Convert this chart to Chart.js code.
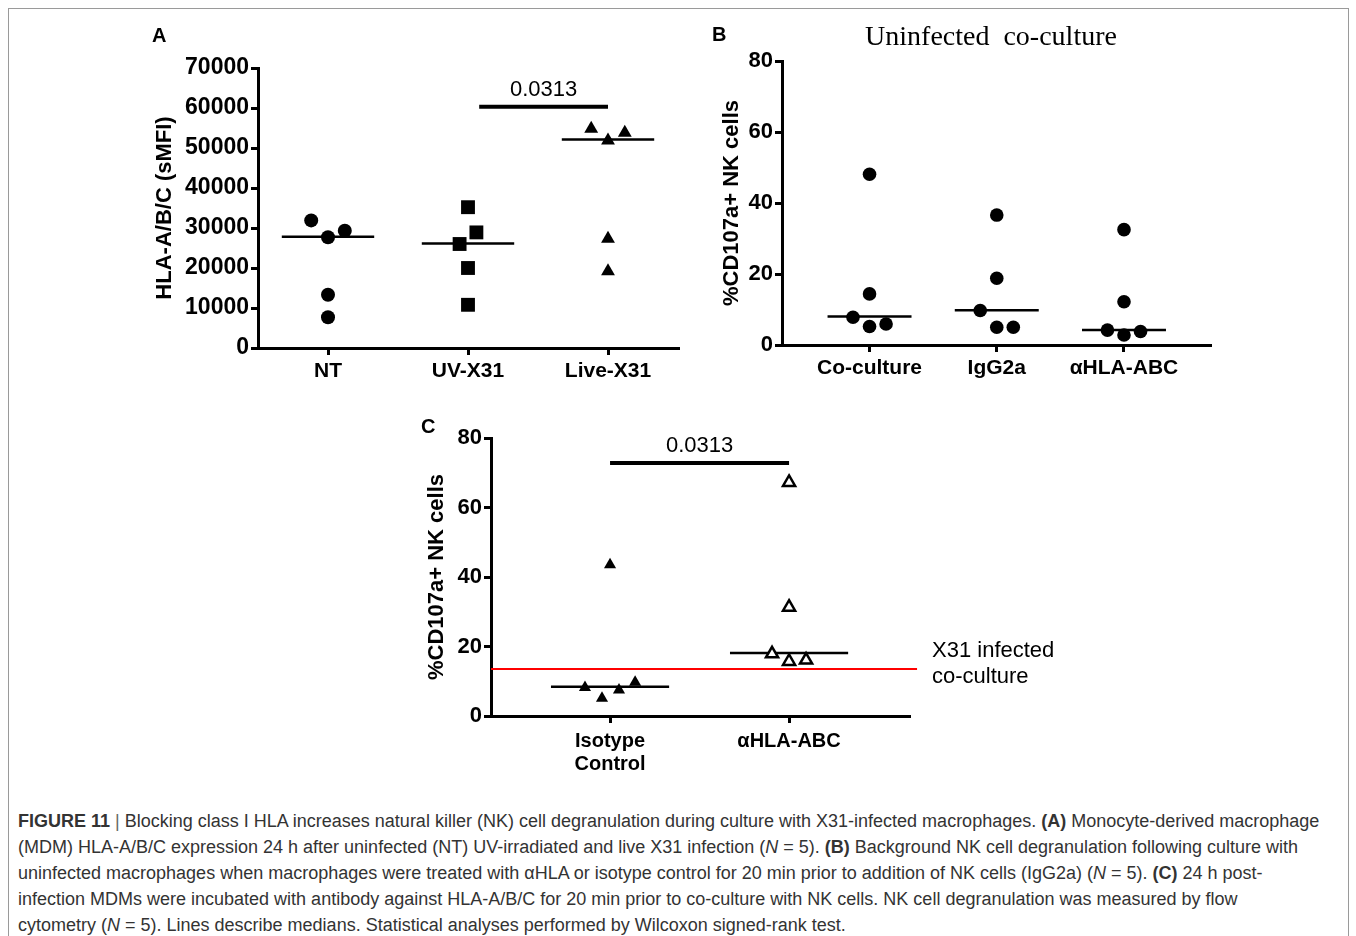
<!DOCTYPE html>
<html>
<head>
<meta charset="utf-8">
<script src="https://cdn.jsdelivr.net/npm/chart.js@4.4.1/dist/chart.umd.min.js"></script>
<style>
    body { margin: 0; background: #fff; }
    .figure { position: relative; width: 1356px; height: 936px; overflow: hidden; font-family: 'Liberation Sans', Arial, sans-serif; }
    .frame { position: absolute; left: 8px; top: 8px; width: 1339px; height: 960px; border: 1px solid #9a9a9a; }
    .panel { position: absolute; }
    .panel-letter { position: absolute; font-weight: bold; font-size: 20px; line-height: 1; }
    .panel-title { position: absolute; font-family: 'Liberation Serif', 'Times New Roman', serif; font-size: 28px; line-height: 1; white-space: pre; transform: translateX(-50%); }
    .caption { position: absolute; left: 18px; top: 808px; font-size: 18px; line-height: 26px; color: #333; white-space: nowrap; }
</style>
</head>
<body>
<div class="figure">
    <div class="frame"></div>

    <canvas id="chartA" class="panel" width="560" height="370" style="left:140px;top:20px"></canvas>
    <canvas id="chartB" class="panel" width="540" height="370" style="left:700px;top:20px"></canvas>
    <canvas id="chartC" class="panel" width="680" height="385" style="left:420px;top:400px"></canvas>

    <div class="panel-letter" style="left:152px;top:25px">A</div>
    <div class="panel-letter" style="left:712px;top:24px">B</div>
    <div class="panel-letter" style="left:421px;top:416px">C</div>
    <div class="panel-title" style="left:991px;top:22px">Uninfected  co-culture</div>

    <div class="caption">
        <div><b>FIGURE 11</b> <span style="color:#666">|</span> Blocking class I HLA increases natural killer (NK) cell degranulation during culture with X31-infected macrophages. <b>(A)</b> Monocyte-derived macrophage</div>
        <div>(MDM) HLA-A/B/C expression 24 h after uninfected (NT) UV-irradiated and live X31 infection (<i>N</i> = 5). <b>(B)</b> Background NK cell degranulation following culture with</div>
        <div>uninfected macrophages when macrophages were treated with &alpha;HLA or isotype control for 20 min prior to addition of NK cells (IgG2a) (<i>N</i> = 5). <b>(C)</b> 24 h post-</div>
        <div>infection MDMs were incubated with antibody against HLA-A/B/C for 20 min prior to co-culture with NK cells. NK cell degranulation was measured by flow</div>
        <div>cytometry (<i>N</i> = 5). Lines describe medians. Statistical analyses performed by Wilcoxon signed-rank test.</div>
    </div>
</div>

<script>
Chart.defaults.font.family = "'Liberation Sans', Arial, sans-serif";
Chart.defaults.color = "#000";

// ---- Panel A: HLA-A/B/C expression ----
const panelACategories = ["NT", "UV-X31", "Live-X31"];
const ntValues = [31900, 27700, 29300, 13300, 7700];
const uvX31Values = [35200, 28900, 26000, 20000, 10800];
const liveX31Values = [54800, 51900, 53800, 27300, 19200];
const panelAMedians = [27800, 26100, 52100];
const panelATicks = [0, 10000, 20000, 30000, 40000, 50000, 60000, 70000];
const panelAPValue = "0.0313";
const panelAPLevel = 60300;

// ---- Panel B: uninfected co-culture ----
const panelBCategories = ["Co-culture", "IgG2a", "\u03b1HLA-ABC"];
const coCultureValues = [48.1, 14.4, 7.8, 5.2, 5.9];
const igG2aValues = [36.6, 18.8, 9.7, 5.0, 5.0];
const antiHlaBValues = [32.5, 12.2, 4.2, 2.8, 3.8];
const panelBMedians = [8.0, 9.8, 4.2];
const percentTicks = [0, 20, 40, 60, 80];

// ---- Panel C: infected co-culture with blocking ----
const panelCCategories = [["Isotype", "Control"], "\u03b1HLA-ABC"];
const isotypeValues = [43.5, 8.2, 5.1, 7.5, 9.7];
const antiHlaCValues = [67.2, 31.3, 17.9, 15.7, 16.1];
const panelCMedians = [8.45, 18.1];
const panelCPValue = "0.0313";
const panelCPLevel = 72.8;
const x31InfectedLevel = 13.5;
const x31InfectedLabel = ["X31 infected", "co-culture"];

// sideways spread of overlapping points (category units)
const ntSpread = [-0.12, 0, 0.12, 0, 0];
const uvX31Spread = [0, 0.06, -0.06, 0, 0];
const liveX31Spread = [-0.12, 0, 0.12, 0, 0];
const coCultureSpread = [0, 0, -0.13, 0, 0.13];
const igG2aSpread = [0, 0, -0.13, 0, 0.13];
const antiHlaBSpread = [0, 0, -0.13, 0, 0.13];
const isotypeSpread = [0, -0.14, -0.045, 0.05, 0.14];
const antiHlaCSpread = [0, 0, -0.095, 0, 0.095];
const medianHalfWidth = 0.33;

const FONT = "'Liberation Sans', Arial, sans-serif";

function spreadPoints(values, group, spread) {
    return values.map((v, i) => ({x: group + spread[i], y: v}));
}

function medianSets(medians) {
    return medians.map((m, i) => ({
        data: [{x: i + 1 - medianHalfWidth, y: m}, {x: i + 1 + medianHalfWidth, y: m}],
        showLine: true, pointRadius: 0, borderColor: "#000", borderWidth: 2.5
    }));
}

function pBarSet(bar) {
    return {
        data: [{x: bar.from, y: bar.y}, {x: bar.to, y: bar.y}],
        showLine: true, pointRadius: 0, borderColor: "#000", borderWidth: 4, clip: false
    };
}

function pointSet(values, group, spread, style, radius, open) {
    return {
        data: spreadPoints(values, group, spread),
        pointStyle: style,
        pointRadius: radius,
        pointHoverRadius: radius,
        pointBackgroundColor: open ? "#fff" : "#000",
        pointBorderColor: "#000",
        pointBorderWidth: open ? 2.5 : 0,
        clip: false
    };
}

// text labels above p-value bars and next to the reference line
const figureNotes = {
    id: "figureNotes",
    afterDatasetsDraw(chart, args, opts) {
        const ctx = chart.ctx;
        const xs = chart.scales.x;
        const ys = chart.scales.y;
        ctx.save();
        ctx.fillStyle = "#000";
        ctx.textBaseline = "alphabetic";
        ctx.font = "22px " + FONT;
        if (opts.pBar) {
            ctx.textAlign = "center";
            ctx.fillText(opts.pBar.text, xs.getPixelForValue((opts.pBar.from + opts.pBar.to) / 2), ys.getPixelForValue(opts.pBar.y) - 11);
        }
        if (opts.sideNote) {
            const y = ys.getPixelForValue(opts.sideNote.y);
            ctx.textAlign = "left";
            ctx.fillText(opts.sideNote.lines[0], chart.chartArea.right + 23, y - 12);
            ctx.fillText(opts.sideNote.lines[1], chart.chartArea.right + 23, y + 14);
        }
        ctx.restore();
    }
};

function valueAxis(ticks, titleText, titlePad, width, fontSize) {
    return {
        type: "linear",
        min: ticks[0],
        max: ticks[ticks.length - 1],
        afterBuildTicks: axis => { axis.ticks = ticks.map(v => ({value: v})); },
        afterFit: axis => { axis.width = width; },
        border: {display: true, color: "#000", width: 3},
        grid: {drawOnChartArea: false, drawTicks: true, tickLength: 7, color: "#000", lineWidth: 3},
        ticks: {font: {size: fontSize, weight: "bold"}, padding: 2, color: "#000", callback: v => String(v)},
        title: {display: true, text: titleText, color: "#000", font: {size: 22, weight: "bold"}, padding: {top: titlePad, bottom: 0}}
    };
}

function groupAxis(categories, min, max, height, fontSize, pad) {
    return {
        type: "linear",
        min: min,
        max: max,
        afterBuildTicks: axis => { axis.ticks = categories.map((c, i) => ({value: i + 1})); },
        afterFit: axis => { axis.height = height; },
        border: {display: true, color: "#000", width: 3},
        grid: {drawOnChartArea: false, drawTicks: true, tickLength: 7, color: "#000", lineWidth: 3},
        ticks: {font: {size: fontSize, weight: "bold", lineHeight: 1.15}, padding: pad, color: "#000", maxRotation: 0, autoSkip: false,
                callback: v => categories[Math.round(v) - 1]}
    };
}

function createPanel(id, datasets, scales, padding, notes) {
    return new Chart(id, {
        type: "scatter",
        data: {datasets: datasets},
        options: {
            responsive: false,
            animation: false,
            layout: {padding: padding},
            scales: scales,
            plugins: {legend: {display: false}, tooltip: {enabled: false}, figureNotes: notes}
        },
        plugins: [figureNotes]
    });
}

// Panel A
const pBarA = {from: 2.08, to: 3, y: panelAPLevel, text: panelAPValue};
createPanel("chartA", [
    pointSet(ntValues, 1, ntSpread, "circle", 7, false),
    pointSet(uvX31Values, 2, uvX31Spread, "rect", 9.8, false),
    pointSet(liveX31Values, 3, liveX31Spread, "triangle", 8, false),
    ...medianSets(panelAMedians),
    pBarSet(pBarA)
], {
    x: groupAxis(panelACategories, 0.5, 3.5, 42, 21, 4),
    y: valueAxis(panelATicks, "HLA-A/B/C (sMFI)", 12, 118, 23)
}, {left: 0, top: 48, right: 22, bottom: 0}, {pBar: pBarA});

// Panel B
createPanel("chartB", [
    pointSet(coCultureValues, 1, coCultureSpread, "circle", 6.8, false),
    pointSet(igG2aValues, 2, igG2aSpread, "circle", 6.8, false),
    pointSet(antiHlaBValues, 3, antiHlaBSpread, "circle", 6.8, false),
    ...medianSets(panelBMedians)
], {
    x: groupAxis(panelBCategories, 0.312, 3.676, 45, 21, 4),
    y: valueAxis(percentTicks, "%CD107a+ NK cells", 19, 82, 22)
}, {left: 0, top: 41, right: 30, bottom: 0}, {});

// Panel C
const pBarC = {from: 1, to: 2, y: panelCPLevel, text: panelCPValue};
createPanel("chartC", [
    pointSet(isotypeValues, 1, isotypeSpread, "triangle", 7, false),
    pointSet(antiHlaCValues, 2, antiHlaCSpread, "triangle", 7, true),
    ...medianSets(panelCMedians),
    pBarSet(pBarC),
    {
        data: [{x: 0.335, y: x31InfectedLevel}, {x: 2.715, y: x31InfectedLevel}],
        showLine: true, pointRadius: 0, borderColor: "#ff0000", borderWidth: 2, clip: false
    }
], {
    x: groupAxis(panelCCategories, 0.335, 2.67, 69, 20, 7),
    y: valueAxis(percentTicks, "%CD107a+ NK cells", 4, 71, 22)
}, {left: 0, top: 38, right: 191, bottom: 0}, {pBar: pBarC, sideNote: {y: x31InfectedLevel, lines: x31InfectedLabel}});
</script>
</body>
</html>
